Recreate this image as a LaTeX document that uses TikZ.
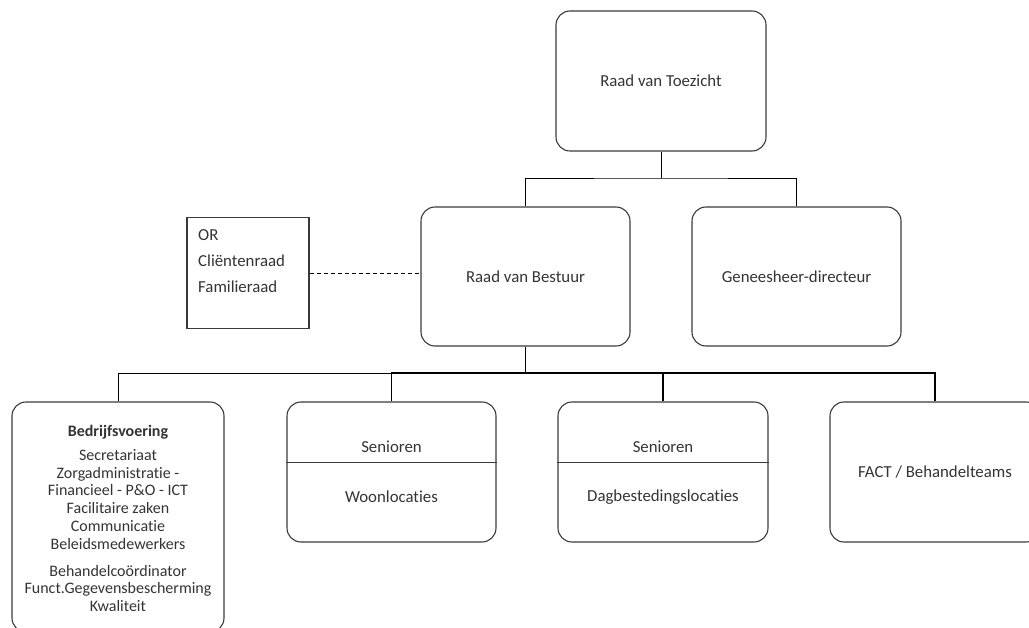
\documentclass[tikz,border=0pt]{standalone}
\usepackage{fontspec}
\setmainfont{Carlito}[RawFeature={-liga,-clig,-dlig}]
\definecolor{txt}{HTML}{333333}
\definecolor{boxc}{HTML}{3A3A3A}
\begin{document}
\begin{tikzpicture}[x=1pt,y=-1pt,
  box/.style={draw=boxc, line width=1.1pt, rounded corners=14pt, inner sep=0pt, text=txt, font=\fontsize{16.8}{19}\selectfont},
  plainbox/.style={draw=boxc, line width=1.1pt, inner sep=0pt},
  lbl/.style={text=txt, font=\fontsize{16.8}{19}\selectfont, inner sep=0pt},
  conn/.style={draw=black, line width=0.8pt},
  connb/.style={draw=black, line width=1.6pt},
  divline/.style={draw=boxc, line width=0.9pt}
]
\useasboundingbox (0,0) rectangle (1029,628);
\clip (0,0) rectangle (1029,628);

% top level
\node[box, minimum width=210pt, minimum height=140pt] (rvt) at (661,81) {Raad van Toezicht};
\node[box, minimum width=209pt, minimum height=139pt] (rvb) at (525.5,276.5) {Raad van Bestuur};
\node[box, minimum width=209pt, minimum height=139pt] (gd) at (796.5,276.5) {Geneesheer-directeur};
\node[plainbox, minimum width=122pt, minimum height=111pt] (orb) at (248,273) {};
\node[lbl, anchor=north west, align=left, font=\fontsize{16.8}{26}\selectfont] (ortxt) at (198,229) {OR\\Cliëntenraad\\Familieraad};

% bottom level
\node[box, minimum width=212pt, minimum height=230pt] (bedr) at (118,517) {};
\node[lbl, anchor=north, align=center, font=\fontsize{16}{17.8}\selectfont] (bedrtxt) at (118,425) {\textbf{Bedrijfsvoering}\\[6pt]Secretariaat\\Zorgadministratie -\\Financieel - P\&O - ICT\\Facilitaire zaken\\Communicatie\\Beleidsmedewerkers\\[9pt]Behandelcoördinator\\Funct.Gegevensbescherming\\Kwaliteit};

\node[box, minimum width=209pt, minimum height=140pt] (woon) at (391.5,472) {};
\draw[divline] ([yshift=10pt]woon.west) -- ([yshift=10pt]woon.east);
\node[lbl] (woon1) at (391.5,447) {Senioren};
\node[lbl] (woon2) at (391.5,497) {Woonlocaties};

\node[box, minimum width=210pt, minimum height=140pt] (dag) at (663,472) {};
\draw[divline] ([yshift=10pt]dag.west) -- ([yshift=10pt]dag.east);
\node[lbl] (dag1) at (663,447) {Senioren};
\node[lbl] (dag2) at (663,497) {Dagbestedingslocaties};

\node[box, minimum width=210pt, minimum height=140pt] (fact) at (935,472) {FACT / Behandelteams};

% connectors
\coordinate (j1) at (661,178);
\draw[conn] (rvt.south) -- (j1);
\draw[conn] (rvb.north) |- (j1) -| (gd.north);

\draw[conn, dashed, dash pattern=on 4pt off 3pt] (orb.east) -- (orb.east -| rvb.west);

\coordinate (j2) at (525.5,373);
\draw[connb] (rvb.south) -- (j2);
\draw[conn] (bedr.north) |- (woon.north |- j2);
\draw[connb] (woon.north) |- (j2) -| (fact.north);
\draw[connb] (dag.north) -- (dag.north |- j2);
\end{tikzpicture}
\end{document}
